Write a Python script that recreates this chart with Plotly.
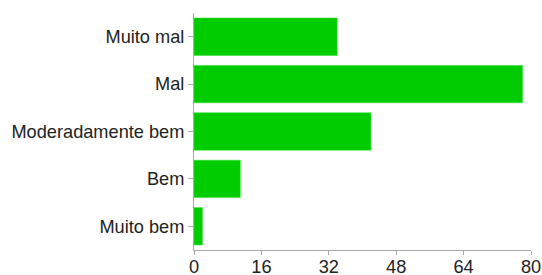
import plotly.graph_objects as go

categories = ["Muito mal", "Mal", "Moderadamente bem", "Bem", "Muito bem"]
values = [34, 78, 42, 11, 2]
x_ticks = [0, 16, 32, 48, 64, 80]

fig = go.Figure(
    go.Bar(
        x=values,
        y=categories,
        orientation="h",
        marker=dict(color="#00cc00", line=dict(color="#33dd33", width=0.5)),
        hoverinfo="none",
    )
)

fig.update_layout(
    width=542,
    height=275,
    margin=dict(l=194, r=11, t=13, b=25, autoexpand=False),
    paper_bgcolor="white",
    plot_bgcolor="white",
    bargap=0.21,
    showlegend=False,
    font=dict(family="Liberation Sans, Arial, sans-serif", size=18.2, color="#222222"),
)
fig.update_xaxes(
    range=[0, 80],
    tickvals=x_ticks,
    showgrid=False,
    zeroline=False,
    showline=True,
    linecolor="#aaaaaa",
    linewidth=1,
    ticks="outside",
    ticklen=4,
    tickcolor="#aaaaaa",
    ticklabelstandoff=-4,
    automargin=False,
)
fig.update_yaxes(
    categoryorder="array",
    categoryarray=categories,
    autorange="reversed",
    showgrid=False,
    zeroline=False,
    showline=True,
    linecolor="#aaaaaa",
    linewidth=1,
    ticks="outside",
    ticklen=5,
    tickcolor="#aaaaaa",
    automargin=False,
)

fig.write_html(
    "out.html",
    config={"displayModeBar": False},
    post_script="document.body.style.margin='0';document.body.style.overflow='hidden';",
)
